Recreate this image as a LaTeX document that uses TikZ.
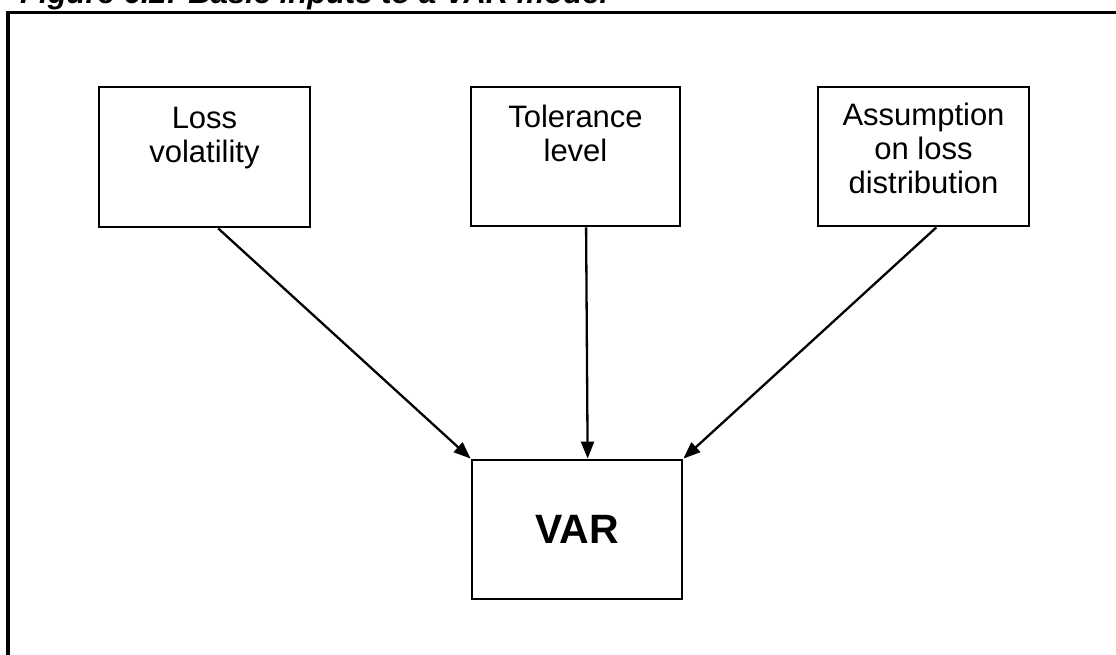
\documentclass[tikz,border=0pt]{standalone}
\usepackage{fontspec}
\setmainfont{Liberation Sans}
\usetikzlibrary{arrows.meta,calc}
\begin{document}
\begin{tikzpicture}[x=1pt,y=-1pt,
  inputbox/.style={draw,line width=2.8pt,minimum width=210pt,minimum height=139pt,inner sep=0pt},
  boxtext/.style={font=\fontsize{31}{34}\selectfont,align=center,inner sep=0pt,anchor=north},
  feed/.style={line width=2.3pt,-{Triangle[length=17pt,width=13pt]}}]
\useasboundingbox (0,0) rectangle (1116,655);
\clip (0,0) rectangle (1116,655);
% caption, mostly above the page edge
\node[anchor=base west,inner sep=0pt,font=\fontsize{31}{36}\selectfont\bfseries\itshape] (title) at (20,4) {Figure 6.2: Basic inputs to a VAR model};
% outer frame running off the page
\draw[line width=3.2pt] (1130,12.5) -- (8,12.5) -- (8,670);
% input boxes
\node[inputbox,minimum width=211pt,minimum height=140pt] (loss) at (204.5,157) {};
\node[inputbox,minimum width=209pt] (tol) at (575.5,156.5) {};
\node[inputbox,minimum width=211pt] (dist) at (923.5,156.5) {};
\node[boxtext] (losst) at ($(loss.north)+(0,21)$) {Loss\\volatility};
\node[boxtext] (tolt) at ($(tol.north)+(0,19)$) {Tolerance\\level};
\node[boxtext] (distt) at ($(dist.north)+(0,17)$) {Assumption\\on loss\\distribution};
% result box
\node[inputbox,font=\fontsize{41}{48}\selectfont\bfseries] (var) at (577,529.5) {VAR};
% connectors
\draw[feed] ($(loss.south west)!0.564!(loss.south east)$) -- (var.north west);
\draw[feed] ($(tol.south west)!0.55!(tol.south east)$) -- ($(var.north west)!0.55!(var.north east)$);
\draw[feed] ($(dist.south west)!0.56!(dist.south east)$) -- (var.north east);
\end{tikzpicture}
\end{document}
